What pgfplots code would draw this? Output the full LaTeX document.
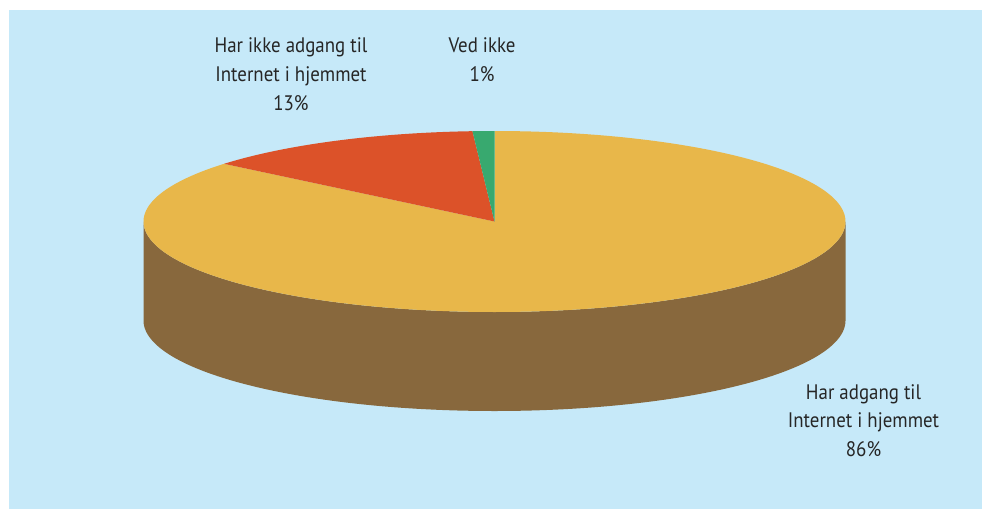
\documentclass[border=0pt]{standalone}
\usepackage{pgfplots}
\pgfplotsset{compat=1.18}
\usepackage{fontspec}
\setmainfont[FakeStretch=0.9]{PT Sans}
\definecolor{bgblue}{HTML}{C6E9F9}
\definecolor{pieyellow}{HTML}{E8B74A}
\definecolor{piered}{HTML}{DC5229}
\definecolor{piegreen}{HTML}{38A96F}
\definecolor{sidebrown}{HTML}{88683D}
\definecolor{txt}{HTML}{262626}

\begin{document}
\begin{tikzpicture}
% shares in percent
\def\pA{86}% Har adgang til Internet i hjemmet
\def\pB{13}% Har ikke adgang til Internet i hjemmet
\def\pC{1}%  Ved ikke
% pie geometry (picture units, y downwards)
\def\cx{494.5}\def\cy{221.5}\def\rx{351}\def\ry{90.5}\def\dep{99}
\pgfmathsetmacro\aA{-90}
\pgfmathsetmacro\aB{\aA+3.6*\pA}
\pgfmathsetmacro\aC{\aB+3.6*\pB}
\pgfmathsetmacro\aD{\aC+3.6*\pC}
\begin{axis}[
  scale only axis, width=982pt, height=509pt,
  xmin=0, xmax=982, ymin=0, ymax=509, y dir=reverse,
  hide axis, clip=false,
]
\fill[white] (0,0) rectangle (982,509);
\fill[bgblue] (9,10) rectangle (982,509);

% ── side wall (front half) ──
\addplot[fill=sidebrown, draw=none, domain=0:360, samples=361]
  ({\cx+\rx*cos(x)}, {\cy+\ry*abs(sin(x))+\dep*(x>180)});

% ── top slices ──
\addplot[fill=pieyellow, draw=none, domain=\aA:\aB, samples=240]
  ({\cx+\rx*cos(x)}, {\cy+\ry*sin(x)}) -- (\cx,\cy) -- cycle;
\addplot[fill=piered, draw=none, domain=\aB:\aC, samples=60]
  ({\cx+\rx*cos(x)}, {\cy+\ry*sin(x)}) -- (\cx,\cy) -- cycle;
\addplot[fill=piegreen, draw=none, domain=\aC:\aD, samples=10]
  ({\cx+\rx*cos(x)}, {\cy+\ry*sin(x)}) -- (\cx,\cy) -- cycle;

% ── labels ──
\tikzset{lbl/.style={align=center, text=txt, inner sep=0pt,
  font=\fontsize{21}{28.8}\selectfont}}
\node[lbl] at (291,74) {Har ikke adgang til\\Internet i hjemmet\\13\%};
\node[lbl] at (482,60) {Ved ikke\\1\%};
\node[lbl] at (863.5,420.5) {Har adgang til\\Internet i hjemmet\\86\%};
\end{axis}
\end{tikzpicture}
\end{document}
